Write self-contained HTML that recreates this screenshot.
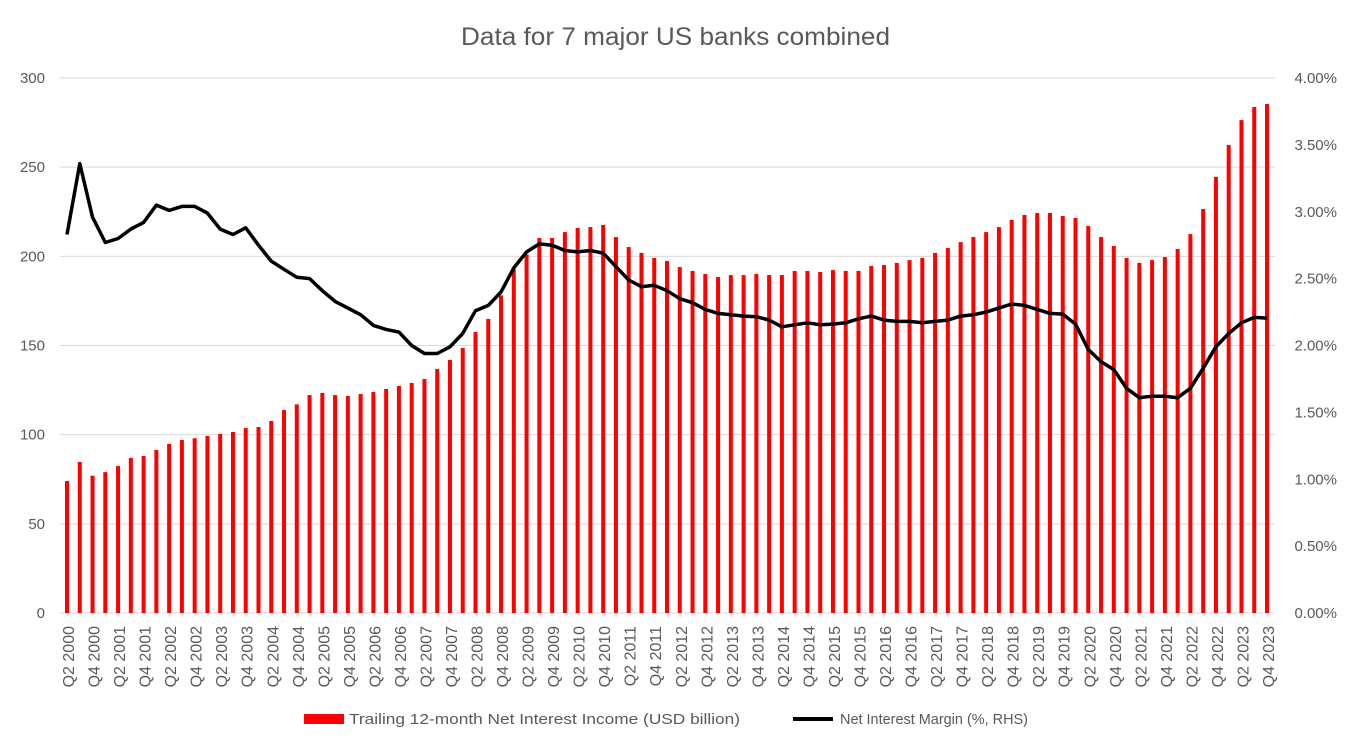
<!DOCTYPE html>
<html><head><meta charset="utf-8"><style>
body{margin:0;background:#fff;}
svg{display:block;font-family:"Liberation Sans",Arial,sans-serif;}
</style></head><body>
<svg id="chart" width="1352" height="752" viewBox="0 0 1352 752">
<rect x="0" y="0" width="1352" height="752" fill="#fff"/>
<text x="461" y="45" textLength="429" lengthAdjust="spacingAndGlyphs" font-size="25" fill="#595959">Data for 7 major US banks combined</text>
<g id="grid"></g><g id="bars"></g><g id="line"></g><g id="axes"></g>
<g>
<rect x="304" y="714" width="40" height="10" fill="#ff0000"/>
<text x="349" y="724" font-size="15" textLength="391" lengthAdjust="spacingAndGlyphs" fill="#595959">Trailing 12-month Net Interest Income (USD billion)</text>
<line x1="793" y1="719" x2="833" y2="719" stroke="#000" stroke-width="4"/>
<text x="840" y="724" font-size="15" textLength="188" lengthAdjust="spacingAndGlyphs" fill="#595959">Net Interest Margin (%, RHS)</text>
</g>
</svg>
<script>
const nii=[74,84.7,77,79,82.4,87,88,91.4,94.8,97,98,99.3,100.4,101.5,103.7,104.3,107.7,113.8,117,122.2,123.4,122.2,121.7,122.8,123.9,125.6,127.3,129,131.2,136.8,141.9,148.6,157.6,164.9,178.1,192.7,201.1,210.3,210.3,213.6,215.9,216.4,217.6,210.8,205.2,201.9,199.1,197.4,194,191.8,190.1,188.4,189.5,189.5,190.1,189.5,189.5,191.8,191.8,191.2,192.3,191.8,191.8,194.6,195.1,196.3,197.9,199.1,201.9,204.7,208,210.8,213.6,216.4,220.4,223.2,224.3,224.3,222.6,221.5,217,210.8,205.8,199.1,196.3,197.9,199.6,204.1,212.5,226.5,244.5,262.4,276.4,283.7,285.4];
const nim=[2.83,3.36,2.96,2.77,2.80,2.87,2.92,3.05,3.01,3.04,3.04,2.99,2.87,2.83,2.88,2.75,2.63,2.57,2.51,2.50,2.41,2.33,2.28,2.23,2.15,2.12,2.10,2.00,1.94,1.94,1.99,2.09,2.26,2.30,2.40,2.58,2.70,2.76,2.75,2.71,2.70,2.71,2.69,2.59,2.49,2.44,2.45,2.41,2.35,2.32,2.27,2.24,2.23,2.22,2.215,2.19,2.14,2.155,2.17,2.155,2.16,2.17,2.20,2.22,2.19,2.18,2.18,2.17,2.18,2.19,2.22,2.23,2.25,2.28,2.31,2.30,2.27,2.24,2.235,2.16,1.97,1.88,1.82,1.68,1.61,1.62,1.62,1.61,1.68,1.83,1.99,2.09,2.17,2.21,2.205];
const leftTicks=[0,50,100,150,200,250,300];
const rightTicks=["0.00%","0.50%","1.00%","1.50%","2.00%","2.50%","3.00%","3.50%","4.00%"];
const startYear=2000,startQ=2;
const NS="http://www.w3.org/2000/svg";
const X0=67,DX=(1267-67)/94,Y0=613,YT=78;
const yL=v=>Y0-(Y0-YT)*v/300;
const yR=p=>Y0-(Y0-YT)*p/4;
const xB=i=>X0+i*DX;
function mk(tag,attrs,parent){const e=document.createElementNS(NS,tag);for(const k in attrs)e.setAttribute(k,attrs[k]);parent.appendChild(e);return e;}
const grid=document.getElementById('grid'),bars=document.getElementById('bars'),line=document.getElementById('line'),axes=document.getElementById('axes');
leftTicks.forEach(t=>{
  const g=mk('line',{x1:60,x2:1275,y1:yL(t),y2:yL(t),stroke:'#d9d9d9','stroke-width':1},grid);
  
  
  const tx=mk('text',{x:45,y:yL(t)+5,'text-anchor':'end','font-size':15,fill:'#595959'},axes);
  tx.textContent=t;
  
  
});
rightTicks.forEach((t,i)=>{
  const tx=mk('text',{x:1337,y:yR(i*0.5)+5,'text-anchor':'end','font-size':15,fill:'#595959'},axes);
  tx.textContent=t;
  
  
});
nii.forEach((v,i)=>{
  const r=mk('rect',{x:xB(i)-2,y:yL(v),width:4,height:Y0-yL(v),fill:'#ff0000'},bars);
  
  
});
const pts=nim.map((p,i)=>xB(i).toFixed(1)+','+yR(p).toFixed(1)).join(' ');
const pl=mk('polyline',{points:pts,fill:'none',stroke:'#000','stroke-width':3.5,'stroke-linejoin':'round'},line);


nii.forEach((v,i)=>{
  if(i%2!==0)return;
  const qi=startQ-1+i,yr=startYear+Math.floor(qi/4),q=qi%4+1;
  const x=xB(i)+7,y=626;
  const tx=mk('text',{x:x,y:y,'text-anchor':'end','font-size':16,fill:'#595959',transform:`rotate(-90 ${x} ${y})`},axes);
  tx.textContent=`Q${q} ${yr}`;
  
  
});
</script>
</body></html>
